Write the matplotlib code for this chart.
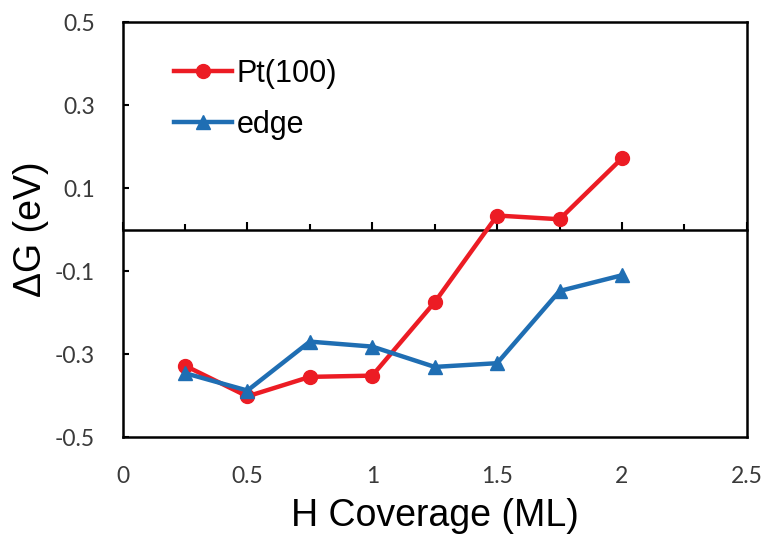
import matplotlib
matplotlib.use("Agg")
import matplotlib.pyplot as plt
from matplotlib.ticker import MultipleLocator

# H coverage (ML)
coverage = [0.25, 0.5, 0.75, 1.0, 1.25, 1.5, 1.75, 2.0]
# free energy (eV)
dg_pt100 = [-0.328, -0.402, -0.355, -0.352, -0.175, 0.034, 0.025, 0.172]
dg_edge = [-0.346, -0.388, -0.270, -0.282, -0.331, -0.322, -0.148, -0.110]

x_ticks = [0, 0.5, 1, 1.5, 2, 2.5]
x_ticklabels = ["0", "0.5", "1", "1.5", "2", "2.5"]
y_ticks = [0.5, 0.3, 0.1, -0.1, -0.3, -0.5]
y_ticklabels = ["0.5", "0.3", "0.1", "-0.1", "-0.3", "-0.5"]

red = "#EC1C24"
blue = "#1F6EB3"

fig = plt.figure(figsize=(7.66, 5.56), dpi=100)
ax = fig.add_axes([0.160, 0.214, 0.815, 0.746])

ax.plot(coverage, dg_pt100, color=red, lw=3.2, marker="o", ms=10, label="Pt(100)")
ax.plot(coverage, dg_edge, color=blue, lw=3.2, marker="^", ms=10, label="edge")

ax.set_xlim(0, 2.5)
ax.set_ylim(-0.5, 0.5)
ax.set_xticks(x_ticks)
ax.set_xticklabels(x_ticklabels)
ax.set_yticks(y_ticks)
ax.set_yticklabels(y_ticklabels)
ax.tick_params(axis="x", length=0, pad=21, labelsize=16.5, labelcolor="#3a3a3a")
ax.tick_params(axis="y", direction="in", length=4, width=1.5, pad=20,
               labelsize=16.5, labelcolor="#3a3a3a")
for lab in ax.get_xticklabels() + ax.get_yticklabels():
    lab.set_family("Lato")
for s in ax.spines.values():
    s.set_linewidth(1.8)

# horizontal axis crossing at zero, ticks pointing up
zax = ax.secondary_xaxis(0.5)
zax.spines["top"].set_linewidth(1.8)
zax.spines["bottom"].set_linewidth(1.8)
zax.xaxis.set_major_locator(MultipleLocator(0.5))
zax.xaxis.set_minor_locator(MultipleLocator(0.25))
zax.tick_params(which="both", labeltop=False, labelbottom=False)
zax.tick_params(which="major", direction="out", length=6, width=1.5)
zax.tick_params(which="minor", direction="out", length=4.5, width=1.5)

ax.set_xlabel("H Coverage (ML)", fontsize=27, family="Liberation Sans", labelpad=8)
ax.set_ylabel("ΔG (eV)", fontsize=27, family="Liberation Sans", labelpad=4)

leg = ax.legend(loc="upper left", bbox_to_anchor=(0.038, 0.978), frameon=False,
                prop={"family": "Liberation Sans", "size": 22},
                handlelength=1.9, handletextpad=0.15, labelspacing=0.68)

fig.savefig("out.png", dpi=100)
